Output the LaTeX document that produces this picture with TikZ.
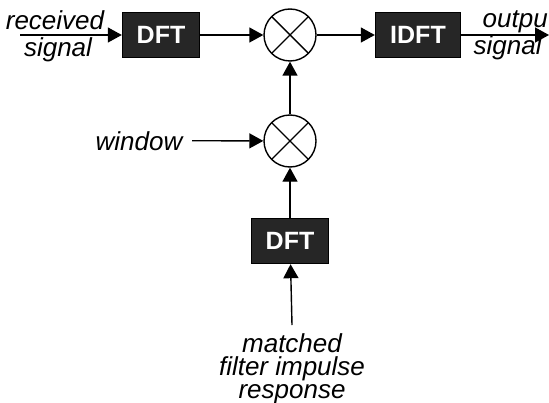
\documentclass[tikz,border=0pt]{standalone}
\usepackage{fontspec}
\setmainfont{Liberation Sans}
\usetikzlibrary{arrows.meta}
\begin{document}
\begin{tikzpicture}[>={Triangle[length=7pt,width=7.5pt]},x=0.5pt,y=0.5pt,line width=0.7pt,
	blk/.style={fill=black!85,draw=black,minimum height=22.5pt,inner sep=0pt,text=white,font=\fontsize{12.5}{14}\selectfont\bfseries},
	mult/.style={circle,draw,minimum size=26pt,inner sep=0pt,path picture={\draw (path picture bounding box.south west) -- (path picture bounding box.north east) (path picture bounding box.north west) -- (path picture bounding box.south east);}},
	lbl/.style={inner sep=0pt,font=\fontsize{13}{11.5}\selectfont\itshape,align=center}]
	\useasboundingbox (0,0) rectangle (549,402);
	\node[blk,minimum width=38.5pt] (dfta) at (161,367) {DFT};
	\node[mult] (mula) at (290,367) {};
	\node[blk,minimum width=42.5pt] (idft) at (418,367) {IDFT};
	\node[mult] (mulb) at (290,261) {};
	\node[blk,minimum width=38.5pt] (dftb) at (290,161) {DFT};
	\coordinate (rx) at (20,367);
	\coordinate (tx) at (549,367);
	\node[lbl,anchor=base] (rxa) at (55,372) {received};
	\node[lbl,anchor=base] (rxb) at (58,345) {signal};
	\node[lbl,anchor=base west] (txa) at (482,374) {output};
	\node[lbl,anchor=base west] (txb) at (473,347) {signal};
	\node[lbl,anchor=base east,inner xsep=4.5pt] (win) at (192,252) {window};
	\node[lbl,anchor=north,inner ysep=4pt] (mf) at (292,77) {matched\\filter impulse\\response};
	\draw[->] (rx) -- (dfta);
	\draw[->] (dfta) -- (mula);
	\draw[->] (mula) -- (idft);
	\draw[->] (idft) -- (tx);
	\draw[->] (win.east) -- (mulb);
	\draw[->] (mulb) -- (mula);
	\draw[->] (dftb) -- (mulb);
	\draw[->] (mf.north) -- (dftb);
\end{tikzpicture}
\end{document}
